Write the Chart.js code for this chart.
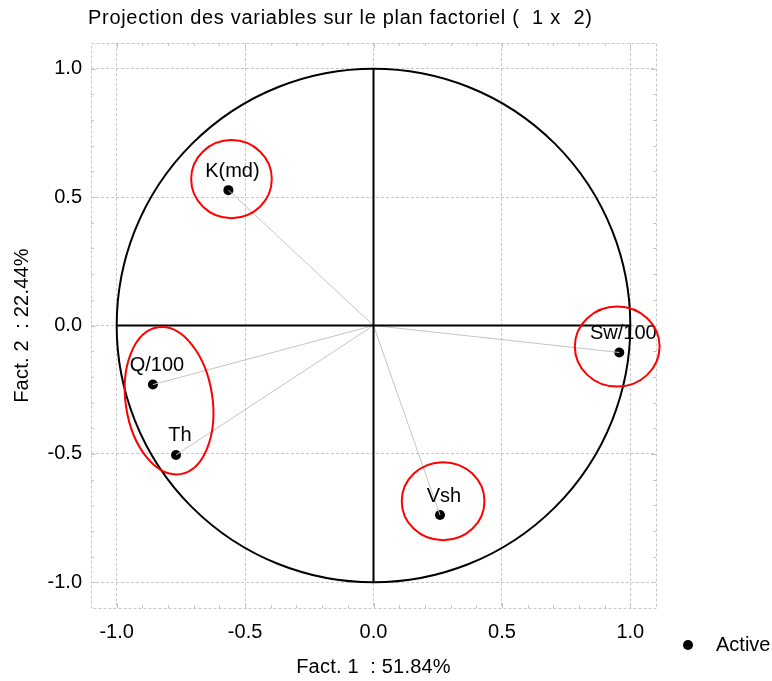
<!DOCTYPE html>
<html>
<head>
<meta charset="utf-8">
<script src="https://cdn.jsdelivr.net/npm/chart.js@4.4.1/dist/chart.umd.min.js"></script>
<style>
  html, body { margin: 0; padding: 0; background: #fff; }
  #wrap { width: 772px; height: 681px; }
</style>
</head>
<body>
<div id="wrap"><canvas id="chart" width="772" height="681"></canvas></div>
<script>
const variables = ["K(md)", "Q/100", "Th", "Vsh", "Sw/100"];
const fact1 = [-0.565, -0.859, -0.769, 0.259, 0.957];
const fact2 = [0.527, -0.230, -0.504, -0.738, -0.105];
const tickValues = [-1, -0.5, 0, 0.5, 1];

// red hand-drawn groupings (data units)
const groupCx = [-0.553, -0.796, 0.949, 0.271];
const groupCy = [0.570, -0.293, -0.082, -0.684];
const groupRx = [0.157, 0.169, 0.165, 0.161];
const groupRy = [0.152, 0.289, 0.156, 0.152];
const groupTilt = [0, -0.15, 0, 0];

const font = "'Liberation Sans', Arial, sans-serif";

const points = fact1.map((x, i) => ({ x, y: fact2[i] }));

const vectors = points.map(p => ({
  data: [{ x: 0, y: 0 }, p],
  showLine: true,
  borderColor: "#c4c4c4",
  borderWidth: 1,
  pointRadius: 0
}));

const axisLines = [
  [{ x: -1, y: 0 }, { x: 1, y: 0 }],
  [{ x: 0, y: -1 }, { x: 0, y: 1 }]
].map(d => ({
  data: d,
  showLine: true,
  borderColor: "#000",
  borderWidth: 2,
  pointRadius: 0
}));

const decorPlugin = {
  id: "decor",
  beforeDatasetsDraw(chart) {
    const { ctx, chartArea: a, scales: { x, y } } = chart;
    ctx.save();
    // frame
    ctx.strokeStyle = "#c8c8c8";
    ctx.lineWidth = 1;
    ctx.setLineDash([3, 2]);
    ctx.strokeRect(a.left + 0.5, a.top + 0.5, a.right - a.left, a.bottom - a.top);
    ctx.setLineDash([]);
    // small inward ticks on the frame
    ctx.beginPath();
    for (let k = -10; k <= 10; k++) {
      const v = k / 10;
      const len = k % 5 === 0 ? 5 : 3;
      const px = Math.round(x.getPixelForValue(v)) + 0.5;
      const py = Math.round(y.getPixelForValue(v)) + 0.5;
      ctx.moveTo(px, a.bottom); ctx.lineTo(px, a.bottom - len);
      ctx.moveTo(px, a.top); ctx.lineTo(px, a.top + len);
      ctx.moveTo(a.left, py); ctx.lineTo(a.left + len, py);
      ctx.moveTo(a.right, py); ctx.lineTo(a.right - len, py);
    }
    ctx.stroke();
    // unit circle
    ctx.strokeStyle = "#000";
    ctx.lineWidth = 2;
    ctx.beginPath();
    ctx.ellipse(x.getPixelForValue(0), y.getPixelForValue(0),
      x.getPixelForValue(1) - x.getPixelForValue(0),
      y.getPixelForValue(0) - y.getPixelForValue(1), 0, 0, Math.PI * 2);
    ctx.stroke();
    ctx.restore();
  },
  afterDatasetsDraw(chart) {
    const { ctx, chartArea: a, scales: { x, y } } = chart;
    ctx.save();
    // labels
    ctx.fillStyle = "#000";
    ctx.font = "20px " + font;
    ctx.textAlign = "center";
    ctx.textBaseline = "middle";
    points.forEach((p, i) => {
      ctx.fillText(variables[i], x.getPixelForValue(p.x) + 4, y.getPixelForValue(p.y) - 19);
    });
    // red ellipses
    ctx.strokeStyle = "#ff0000";
    ctx.lineWidth = 2;
    groupCx.forEach((cx, i) => {
      const px = x.getPixelForValue(cx), py = y.getPixelForValue(groupCy[i]);
      const rx = x.getPixelForValue(cx + groupRx[i]) - px;
      const ry = py - y.getPixelForValue(groupCy[i] + groupRy[i]);
      ctx.beginPath();
      ctx.ellipse(px, py, rx, ry, groupTilt[i], 0, Math.PI * 2);
      ctx.stroke();
    });
    // title
    ctx.textAlign = "left";
    ctx.letterSpacing = "0.7px";
    ctx.fillText("Projection des variables sur le plan factoriel (  1 x  2)", 88, 18);
    ctx.letterSpacing = "0.2px";
    // axis titles
    ctx.textAlign = "center";
    ctx.fillText("Fact. 1  : 51.84%", (a.left + a.right) / 2, 667);
    ctx.save();
    ctx.translate(22, (a.top + a.bottom) / 2);
    ctx.rotate(-Math.PI / 2);
    ctx.fillText("Fact. 2  : 22.44%", 0, 0);
    ctx.restore();
    ctx.letterSpacing = "0px";
    // legend
    ctx.beginPath();
    ctx.arc(688, 645, 5, 0, Math.PI * 2);
    ctx.fill();
    ctx.textAlign = "left";
    ctx.fillText("Active", 716, 645);
    ctx.restore();
  }
};

const axisOpts = {
  type: "linear",
  min: -1.1,
  max: 1.1,
  afterBuildTicks: s => { s.ticks = tickValues.map(v => ({ value: v })); },
  grid: { color: "#c8c8c8", drawTicks: false },
  border: { display: false, dash: [3, 2] },
  ticks: {
    color: "#000",
    font: { family: font, size: 20 },
    callback: v => v.toFixed(1)
  }
};

new Chart(document.getElementById("chart"), {
  type: "scatter",
  data: {
    datasets: [
      ...axisLines,
      ...vectors,
      {
        label: "Active",
        data: points,
        pointRadius: 5,
        pointBackgroundColor: "#000",
        pointBorderColor: "#000",
        pointBorderWidth: 0
      }
    ]
  },
  options: {
    responsive: false,
    animation: false,
    layout: { padding: { top: 43, right: 116, left: 0, bottom: 0 } },
    plugins: { legend: { display: false }, tooltip: { enabled: false } },
    scales: {
      x: {
        ...axisOpts,
        position: "bottom",
        ticks: { ...axisOpts.ticks, padding: 12 },
        afterFit: s => { s.height = 73; }
      },
      y: {
        ...axisOpts,
        position: "left",
        ticks: { ...axisOpts.ticks, padding: 9 },
        afterFit: s => { s.width = 91; }
      }
    }
  },
  plugins: [decorPlugin]
});
</script>
</body>
</html>
